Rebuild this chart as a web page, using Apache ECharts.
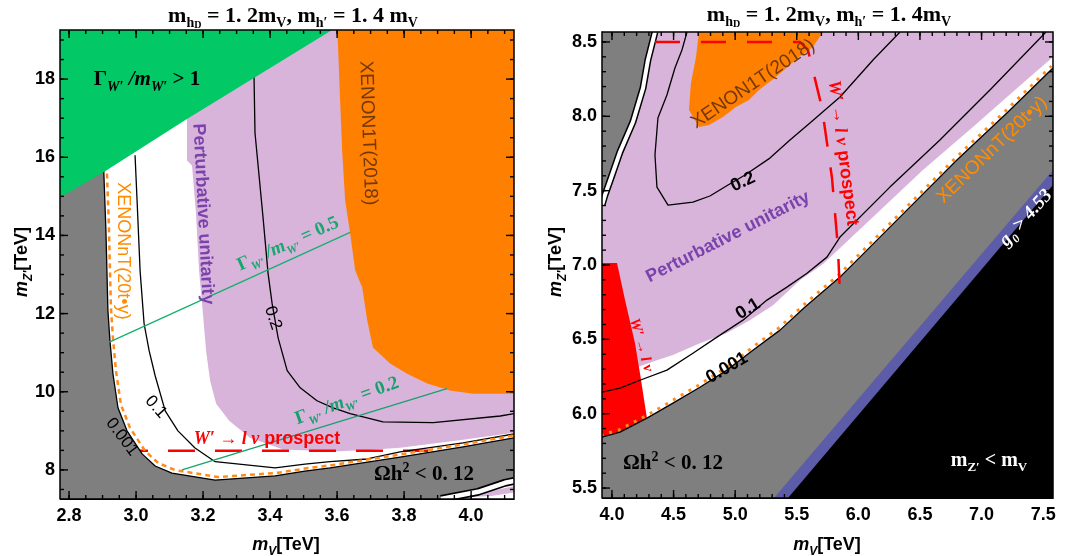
<!DOCTYPE html>
<html><head><meta charset="utf-8">
<script src="https://cdn.jsdelivr.net/npm/echarts@6/dist/echarts.min.js"></script>
<style>html,body{margin:0;padding:0;background:#fff}#c{width:1076px;height:556px}</style>
</head><body><div id="c"></div>
<script>
// ---------------- LEFT PANEL (m_V vs m_Z', TeV) ----------------
const leftXTicks = [2.8, 3.0, 3.2, 3.4, 3.6, 3.8, 4.0];
const leftYTicks = [8, 10, 12, 14, 16, 18];
const leftGreenRegion = [[2.773,19.256],[3.585,19.256],[3.146,16.95],[2.898,15.59],[2.773,14.97]];
const leftUnitarityRegion = [[3.152,19.256],[4.128,19.256],[4.128,8.95],[3.976,8.77],[3.788,8.57],[3.690,8.51],[3.588,8.47],[3.439,8.52],[3.340,8.82],[3.278,9.26],[3.239,9.69],[3.221,10.28],[3.209,11.05],[3.197,12.26],[3.188,13.10],[3.179,14.56],[3.167,15.79],[3.152,15.92],[3.152,16.92]];
const leftXenon1TRegion = [[3.600,19.256],[3.603,18.82],[3.609,17.46],[3.615,16.18],[3.624,14.90],[3.639,14.05],[3.654,13.10],[3.675,12.67],[3.690,11.82],[3.707,11.13],[3.758,10.72],[3.809,10.46],[3.869,10.21],[3.937,10.03],[4.006,9.95],[4.128,9.95],[4.128,19.256]];
const leftContour0001 = [[2.902,16.2],[2.904,15.56],[2.910,14.13],[2.913,13.10],[2.916,12.08],[2.922,11.31],[2.931,10.46],[2.946,9.59],[2.973,9.00],[3.018,8.41],[3.057,8.10],[3.107,7.92],[3.236,7.74],[3.415,7.85],[3.504,7.97],[3.579,8.05],[3.788,8.33],[3.976,8.59],[4.128,8.82]];
const leftRelicLowerEdge = [[4.128,7.72],[4.101,7.67],[4.021,7.44],[3.910,7.256]];
const leftUnitarityPatch = [[3.98,7.30],[4.05,7.45],[4.128,7.58],[4.128,7.42],[4.06,7.33]];
const leftContour01 = [[2.997,16.05],[3.003,14.90],[3.012,13.10],[3.024,11.74],[3.039,11.05],[3.057,10.41],[3.087,9.51],[3.125,9.00],[3.176,8.56],[3.236,8.21],[3.415,8.05],[3.504,8.15],[3.579,8.21],[3.690,8.28],[3.788,8.46],[3.976,8.69],[4.128,8.92]];
const leftContour02 = [[3.352,18.1],[3.355,16.62],[3.379,14.46],[3.394,13.03],[3.406,12.26],[3.424,11.38],[3.451,10.54],[3.490,10.10],[3.540,9.77],[3.588,9.59],[3.639,9.44],[3.737,9.23],[3.887,9.21],[4.087,9.38],[4.128,9.44]];
const leftWidth05 = [[2.92,11.27],[3.639,14.08]];
const leftWidth02 = [[3.137,8.0],[3.928,10.08]];
const leftProspect = [[2.955,8.49],[3.872,8.49]];

// ---------------- RIGHT PANEL ----------------
const rightXTicks = [4.0, 4.5, 5.0, 5.5, 6.0, 6.5, 7.0, 7.5];
const rightYTicks = [5.5, 6.0, 6.5, 7.0, 7.5, 8.0, 8.5];
const rightXenon1TRegion = [[4.706,8.567],[5.713,8.567],[5.631,8.466],[5.518,8.399],[5.331,8.264],[5.193,8.177],[5.112,8.110],[5.006,8.063],[4.901,7.995],[4.787,7.941],[4.706,7.928],[4.625,8.042],[4.641,8.224],[4.682,8.399]];
const rightRelicTopEdge = [[4.349,8.567],[4.292,8.379],[4.252,8.190],[4.170,7.962],[4.065,7.760],[3.992,7.585],[3.943,7.470],[3.919,7.403]];
const rightUnitarityLowerEdge = [[3.919,6.313],[4.203,6.313],[4.365,6.360],[4.495,6.394],[4.714,6.474],[4.933,6.542],[5.119,6.629],[5.307,6.730],[5.526,6.898],[5.713,7.006],[6.119,7.322],[6.524,7.639],[6.930,7.928],[7.336,8.224],[7.580,8.399]];
const rightContour0001 = [[3.919,5.842],[4.065,5.876],[4.284,5.970],[4.495,6.071],[4.714,6.178],[4.933,6.293],[5.144,6.427],[5.364,6.562],[5.567,6.717],[5.851,6.919],[5.989,7.033],[6.394,7.369],[6.800,7.706],[7.206,8.022],[7.580,8.325]];
const rightContour01 = [[3.919,6.145],[4.065,6.172],[4.227,6.225],[4.446,6.293],[4.657,6.407],[4.852,6.515],[5.063,6.629],[5.258,6.764],[5.420,6.851],[5.583,6.945],[5.745,7.053],[5.851,7.188],[6.256,7.524],[6.662,7.841],[7.068,8.177],[7.523,8.567]];
const rightContour02 = [[4.609,8.567],[4.568,8.446],[4.511,8.325],[4.446,8.143],[4.373,7.989],[4.349,7.740],[4.365,7.524],[4.455,7.403],[4.657,7.423],[4.795,7.464],[4.942,7.538],[5.080,7.605],[5.282,7.719],[5.445,7.841],[5.607,7.955],[5.851,8.130],[6.119,8.379],[6.338,8.567]];
const rightWprimeRegion = [[3.919,7.013],[4.041,7.013],[4.106,6.764],[4.187,6.474],[4.227,6.273],[4.284,5.970],[4.065,5.876],[3.919,5.842]];
const rightPerturbBlue = [[5.315,5.433],[7.580,7.639],[7.580,5.433]];
const rightKinematic = [[5.429,5.433],[7.580,7.538],[7.580,5.433]];
const rightProspect = [[4.349,8.5],[5.526,8.5],[5.591,8.446],[5.705,8.056],[5.786,7.585],[5.834,7.120],[5.851,6.797]];

function range(a, b, s) { const r = []; for (let i = 0; a + i * s <= b + 1e-9; i++) r.push(+(a + i * s).toFixed(4)); return r; }

const GRIDS = [
  {left:60, top:30, width:454, height:469, xMin:2.773, xMax:4.128, yMin:7.256, yMax:19.256,
   xMajor:leftXTicks, xMinor:range(2.8,4.1,0.05), yMajor:leftYTicks, yMinor:range(7.5,19,0.5), xDec:1, yDec:0},
  {left:602, top:32, width:451, height:466, xMin:3.919, xMax:7.580, yMin:5.433, yMax:8.567,
   xMajor:rightXTicks, xMinor:range(4.0,7.5,0.1), yMajor:rightYTicks, yMinor:range(5.5,8.5,0.1), xDec:1, yDec:1}
];

const lblFont = {fontFamily:'Liberation Sans', fontWeight:'bold', fontSize:18, color:'#000'};
const xAxes = GRIDS.map((g, gi) => ({type:'value', gridIndex:gi, min:g.xMin, max:g.xMax, position:'bottom', splitLine:{show:false},
  axisLine:{show:true, onZero:false, lineStyle:{color:'#000'}}, axisTick:{show:false},
  axisLabel:Object.assign({customValues:g.xMajor, margin:8, formatter:v => (+v).toFixed(g.xDec)}, lblFont)}));
const yAxes = GRIDS.map((g, gi) => ({type:'value', gridIndex:gi, min:g.yMin, max:g.yMax, position:'left', splitLine:{show:false},
  axisLine:{show:true, onZero:false, lineStyle:{color:'#000'}}, axisTick:{show:false},
  axisLabel:Object.assign({customValues:g.yMajor, margin:5, formatter:v => (+v).toFixed(g.yDec)}, lblFont)}));

function poly(gi, pts, fill, z) {
  return {type:'custom', xAxisIndex:gi, yAxisIndex:gi, silent:true, clip:true, z:z, animation:false,
    data:pts, renderItem:(p, api) => p.dataIndex !== 0 ? null :
      {type:'polygon', shape:{points:pts.map(q => api.coord(q))}, style:{fill:fill, stroke:null}}};
}
function line(gi, pts, stroke, width, z, dash, dx, dy) {
  return {type:'custom', xAxisIndex:gi, yAxisIndex:gi, silent:true, clip:true, z:z, animation:false,
    data:pts, renderItem:(p, api) => p.dataIndex !== 0 ? null :
      {type:'polyline', shape:{points:pts.map(q => { const c = api.coord(q); return [c[0]+(dx||0), c[1]+(dy||0)]; })},
       style:{stroke:stroke, lineWidth:width, fill:null, lineDash:dash||null, lineJoin:'round'}}};
}
// Mathematica-style frame: inward ticks on all four sides, placed through the axis scales
function frame(gi) {
  const g = GRIDS[gi];
  return {type:'custom', xAxisIndex:gi, yAxisIndex:gi, silent:true, clip:false, z:20, animation:false,
    data:[[g.xMin, g.yMin]],
    renderItem:(p, api) => {
      const ch = [];
      const seg = (a, b) => ch.push({type:'polyline', shape:{points:[a, b]}, style:{stroke:'#000', lineWidth:1.4, fill:null}});
      const bl = api.coord([g.xMin, g.yMin]), tr = api.coord([g.xMax, g.yMax]);
      const tx = (v, len) => { const x = api.coord([v, g.yMin])[0]; seg([x, bl[1]], [x, bl[1]-len]); seg([x, tr[1]], [x, tr[1]+len]); };
      const ty = (v, len) => { const y = api.coord([g.xMin, v])[1]; seg([bl[0], y], [bl[0]+len, y]); seg([tr[0], y], [tr[0]-len, y]); };
      g.xMinor.forEach(v => tx(v, 4)); g.xMajor.forEach(v => tx(v, 8));
      g.yMinor.forEach(v => ty(v, 4)); g.yMajor.forEach(v => ty(v, 8));
      ch.push({type:'polyline', shape:{points:[[bl[0], bl[1]], [bl[0], tr[1]], [tr[0], tr[1]], [tr[0], bl[1]], [bl[0], bl[1]]]}, style:{stroke:'#000', lineWidth:1.5, fill:null}});
      return {type:'group', children:ch};
    }};
}

const GRAY = '#7f7f7f', LAV = '#d8b4db', ORG = '#ff8000', GRN = '#03c866', RED = '#ff0000';
const series = [
  // left
  poly(0, leftUnitarityRegion, LAV, 1),
  poly(0, leftXenon1TRegion, ORG, 2),
  line(0, leftProspect, RED, 2.5, 3, [27,20]),
  poly(0, [[2.773,7.256],[2.773,16.2]].concat(leftContour0001, leftRelicLowerEdge), GRAY, 4),
  poly(0, leftUnitarityPatch, LAV, 4),
  line(0, leftRelicLowerEdge.slice(0,4), '#000', 8, 5),
  line(0, leftRelicLowerEdge.slice(0,4), '#fff', 4.5, 5),
  line(0, leftContour02, '#000', 1.3, 6),
  line(0, leftContour01, '#000', 1.3, 6),
  line(0, leftContour0001, '#000', 1.3, 6),
  line(0, leftContour0001, '#ff8c1a', 2.5, 6, [5,4], 3, -3),
  line(0, leftWidth05, '#14b06e', 1.3, 6),
  line(0, leftWidth02, '#17a070', 1.3, 6),
  poly(0, leftGreenRegion, GRN, 7),
  frame(0),
  // right
  poly(1, rightRelicTopEdge.concat(rightUnitarityLowerEdge, [[7.580,8.567]]), LAV, 1),
  poly(1, rightXenon1TRegion, ORG, 2),
  poly(1, [[3.919,8.567]].concat(rightRelicTopEdge), GRAY, 3),
  poly(1, [[3.919,5.433]].concat(rightContour0001, [[7.580,5.433]]), GRAY, 3),
  poly(1, rightPerturbBlue, '#5c5ca8', 4),
  poly(1, rightKinematic, '#000', 4),
  poly(1, rightWprimeRegion, RED, 4),
  line(1, rightRelicTopEdge, '#000', 7, 5),
  line(1, rightRelicTopEdge, '#fff', 4, 5),
  line(1, rightContour02, '#000', 1.3, 6),
  line(1, rightContour01, '#000', 1.3, 6),
  line(1, rightContour0001, '#000', 1.3, 6),
  line(1, rightContour0001, '#ff8c1a', 3, 6, [3,6], -1.5, -2),
  line(1, rightProspect, RED, 2.5, 6, [25,21]),
  frame(1)
];

// ---------------- text ----------------
const SERIF = 'Liberation Serif, DejaVu Serif, serif', SANS = 'Liberation Sans, Arial, sans-serif';
function txt(x, y, text, rich, deg) {
  return {type:'text', x, y, rotation:(deg||0)*Math.PI/180, z:100, silent:true,
    style:{text, rich, align:'center', verticalAlign:'middle'}};
}
function mathRich(size, color, family) {
  const sub = Math.round(size*0.65);
  return {
    b:{fontFamily:family, fontWeight:'bold', fontSize:size, lineHeight:size+7, fill:color},
    i:{fontFamily:family, fontWeight:'bold', fontStyle:'italic', fontSize:size, lineHeight:size+7, fill:color},
    s:{fontFamily:family, fontWeight:'bold', fontStyle:'italic', fontSize:sub, lineHeight:12, verticalAlign:'bottom', fill:color},
    su:{fontFamily:family, fontWeight:'bold', fontSize:sub, lineHeight:12, verticalAlign:'bottom', fill:color},
    ss:{fontFamily:family, fontWeight:'bold', fontSize:Math.round(size*0.45), lineHeight:8, verticalAlign:'bottom', fill:color},
    sup:{fontFamily:family, fontWeight:'bold', fontSize:sub, lineHeight:12, verticalAlign:'top', fill:color},
    p:{fontFamily:SANS, fontWeight:'bold', fontSize:size, lineHeight:size+7, fill:color}
  };
}
function plain(size, color, weight) {
  return {t:{fontFamily:SANS, fontWeight:weight||'normal', fontSize:size, fill:color, lineHeight:size+4}};
}
const titleRich = mathRich(22, '#000', SERIF);
const axRich = mathRich(18, '#000', SANS);
const graphics = [
  // left panel
  txt(293, 16, '{b|m}{su|h}{ss|D}{b| = 1. 2m}{su|V}{b|, m}{su|h′}{b| = 1. 4 m}{su|V}', titleRich),
  txt(147, 80, '{b|Γ}{s|W′}{i| /m}{s|W′}{b| > 1}', mathRich(21, '#000', SERIF)),
  txt(203, 214, '{t|Perturbative unitarity}', plain(18, '#7a42ab', 'bold'), -87),
  txt(368, 133, '{t|XENON1T(2018)}', plain(19, '#74380a'), -88),
  txt(123, 251, '{t|XENONnT(20t•y)}', plain(18, '#ff8c00'), -90),
  txt(273, 318, '{t|0.2}', plain(17, '#000'), -71),
  txt(156, 407, '{t|0.1}', plain(17, '#000'), -48),
  txt(122, 437, '{t|0.001}', plain(17, '#000'), -53),
  txt(288, 244, '{b|Γ}{s|W′}{i| /m}{s|W′}{b| = 0.5}', mathRich(19, '#17a86c', SERIF), 24),
  txt(347, 401, '{b|Γ}{s|W′}{i| /m}{s|W′}{b| = 0.2}', mathRich(19, '#17a06c', SERIF), 20),
  txt(267, 439, '{i|W′ → l ν}{p| prospect}', mathRich(18, RED, SERIF)),
  txt(424, 475, '{b|Ωh}{sup|2}{b| < 0. 12}', mathRich(21, '#000', SERIF)),
  txt(286, 545, '{i|m}{s|V}{b|[TeV]}', axRich),
  txt(22, 262, '{i|m}{s|Z′}{b|[TeV]}', axRich, 90),
  // right panel
  txt(829, 15, '{b|m}{su|h}{ss|D}{b| = 1. 2m}{su|V}{b|, m}{su|h′}{b| = 1. 4m}{su|V}', titleRich),
  txt(753, 84, '{t|XENON1T(2018)}', plain(19, '#74380a'), 34),
  txt(843, 153, '{i|W′ → l ν}{p| prospect}', mathRich(18, RED, SERIF), -82.5),
  txt(728, 237, '{t|Perturbative unitarity}', plain(18, '#7a42ab', 'bold'), 27),
  txt(743, 182, '{t|0.2}', plain(18, '#000', 'bold'), 25),
  txt(748, 309, '{t|0.1}', plain(18, '#000', 'bold'), 32),
  txt(727, 368, '{t|0.001}', plain(18, '#000', 'bold'), 30),
  txt(992, 150, '{t|XENONnT(20t•y)}', plain(19, '#ff8c00'), 44),
  txt(1026, 218, '{i|g}{s|0}{i| > 4.53}', mathRich(19, '#fff', SERIF), 48),
  txt(641, 345, '{i|W′ → l ν}', mathRich(15, RED, SERIF), -74),
  txt(673, 464, '{b|Ωh}{sup|2}{b| < 0. 12}', mathRich(21, '#000', SERIF)),
  txt(989, 461, '{b|m}{su|Z′}{b| < m}{su|V}', mathRich(20, '#fff', SERIF)),
  txt(827, 545, '{i|m}{s|V}{b|[TeV]}', axRich),
  txt(556, 262, '{i|m}{s|Z′}{b|[TeV]}', axRich, 90)
];

const chart = echarts.init(document.getElementById('c'), null, {renderer:'canvas'});
chart.setOption({
  animation:false, backgroundColor:'#fff',
  grid: GRIDS.map(g => ({left:g.left, top:g.top, width:g.width, height:g.height, containLabel:false})),
  xAxis: xAxes, yAxis: yAxes, series, graphic: graphics
});
</script></body></html>
